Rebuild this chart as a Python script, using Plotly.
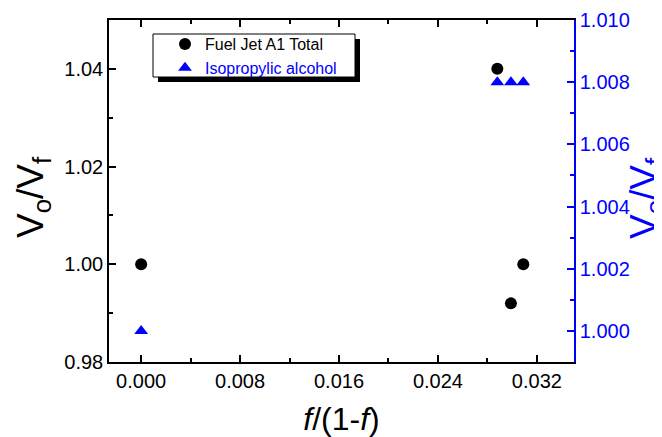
import plotly.graph_objects as go

# Data
x_vals = [0.0, 0.0288, 0.0299, 0.0309]           # f/(1-f)
fuel_jet_a1 = [1.000, 1.040, 0.992, 1.000]        # V0/Vf, left axis
isopropylic = [1.000, 1.008, 1.008, 1.008]        # V0/Vf, right axis

FONT = "Arial, Liberation Sans, sans-serif"
BLUE = "#0000FF"
# page has an 8px body margin; figure sized so that it ends at the window edge
W, H = 654, 429
ML, MR, MT, MB = 101, 88, 12, 75
PW, PH = W - ML - MR, H - MT - MB
OFF = 8


def sx(px):  # screen px -> paper x
    return (px - OFF - ML) / PW


def sy(py):  # screen px -> paper y
    return 1 - (py - OFF - MT) / PH


fig = go.Figure()
fig.add_trace(go.Scatter(
    x=x_vals, y=fuel_jet_a1, mode="markers", name="Fuel Jet A1 Total",
    marker=dict(symbol="circle", size=12, color="black"), yaxis="y"))
fig.add_trace(go.Scatter(
    x=x_vals, y=isopropylic, mode="markers",
    name="<span style='color:#0000FF'>Isopropylic alcohol</span>",
    marker=dict(symbol="triangle-up", size=12, color=BLUE), yaxis="y2"))

# legend box with drop shadow
fig.add_shape(type="rect", xref="paper", yref="paper",
              x0=sx(158), x1=sx(360), y0=sy(82), y1=sy(39),
              fillcolor="black", line=dict(width=0), layer="above")
fig.add_shape(type="rect", xref="paper", yref="paper",
              x0=sx(153), x1=sx(355), y0=sy(77), y1=sy(34),
              fillcolor="white", line=dict(width=1, color="black"), layer="above")

# axis titles
fig.add_annotation(text="V<sub>o</sub>/V<sub>f</sub>", xref="paper", yref="paper",
                   x=sx(33), y=sy(197), xanchor="center", yanchor="middle",
                   textangle=-90, showarrow=False,
                   font=dict(size=37, family=FONT, color="black"))
fig.add_annotation(text="V<sub>o</sub>/V<sub>f</sub>", xref="paper", yref="paper",
                   x=sx(646), y=sy(198), xanchor="center", yanchor="middle",
                   textangle=-90, showarrow=False,
                   font=dict(size=37, family=FONT, color=BLUE))

fig.update_layout(
    width=W, height=H,
    margin=dict(l=ML, r=MR, t=MT, b=MB, pad=0, autoexpand=False),
    plot_bgcolor="white", paper_bgcolor="white",
    font=dict(family=FONT, color="black"),
    showlegend=True,
    legend=dict(x=sx(165), y=sy(27), xanchor="left", yanchor="top",
                bgcolor="rgba(0,0,0,0)", borderwidth=0,
                font=dict(size=16, family=FONT), tracegroupgap=0),
    xaxis=dict(
        range=[-0.0026, 0.035], tick0=0, dtick=0.008, tickformat=".3f",
        ticks="inside", ticklen=7, tickwidth=1.5, tickcolor="black",
        minor=dict(dtick=0.004, tick0=0, ticks="inside", ticklen=4, tickwidth=1.5, tickcolor="black"),
        showline=True, linecolor="black", linewidth=1.5, mirror="ticks",
        showgrid=False, zeroline=False, automargin=False,
        tickfont=dict(size=20, family=FONT),
        title=dict(text="<i>f</i>/(1-<i>f</i>)", font=dict(size=32, family=FONT), standoff=19),
    ),
    yaxis=dict(
        range=[0.98, 1.05], tick0=0.98, dtick=0.02, tickformat=".2f",
        ticks="inside", ticklen=7, tickwidth=1.5, tickcolor="black",
        minor=dict(dtick=0.01, tick0=0.98, ticks="inside", ticklen=4, tickwidth=1.5, tickcolor="black"),
        showline=True, linecolor="black", linewidth=1.5,
        showgrid=False, zeroline=False, automargin=False,
        tickfont=dict(size=20, family=FONT),
    ),
    yaxis2=dict(
        overlaying="y", side="right", anchor="x",
        range=[0.999, 1.010], tick0=1.0, dtick=0.002, tickformat=".3f",
        ticks="inside", ticklen=7, tickwidth=1.5, tickcolor=BLUE,
        minor=dict(dtick=0.001, tick0=1.0, ticks="inside", ticklen=4, tickwidth=1.5, tickcolor=BLUE),
        showline=True, linecolor=BLUE, linewidth=1.5,
        showgrid=False, zeroline=False, automargin=False,
        tickfont=dict(size=20, family=FONT, color=BLUE),
    ),
)

fig.write_html("out.html")
